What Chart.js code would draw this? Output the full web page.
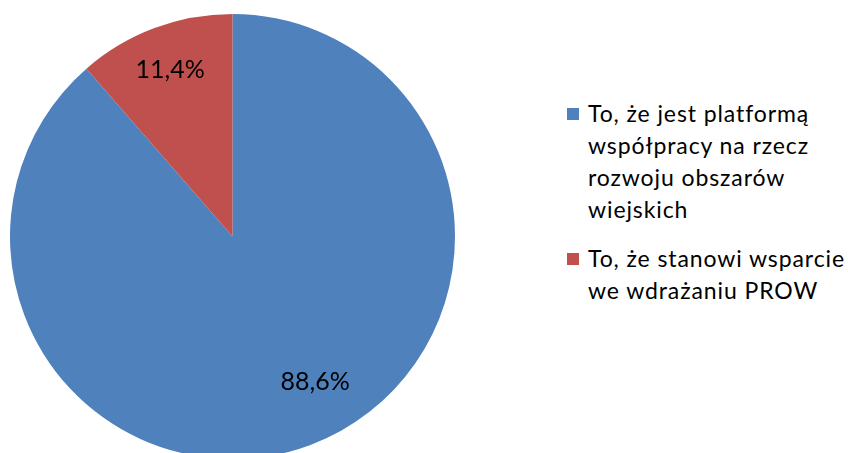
<!DOCTYPE html>
<html>
<head>
<meta charset="utf-8">
<script src="https://cdn.jsdelivr.net/npm/chart.js@4.4.0/dist/chart.umd.min.js"></script>
<style>
  html, body { margin: 0; padding: 0; background: #fff; overflow: hidden; }
  body { width: 848px; height: 453px; position: relative; }
  #pieBox { position: absolute; left: 0; top: 0; width: 465px; height: 473px; }
  #legend { position: absolute; left: 567px; top: 97px; font-family: Lato, "Open Sans", sans-serif; font-size: 23px; letter-spacing: 0.9px; color: #000; }
  .item { display: flex; align-items: flex-start; margin-bottom: 17px; }
  .box { width: 12px; height: 12px; margin-top: 11px; margin-right: 9px; flex: none; }
  .txt { line-height: 32px; white-space: nowrap; }
</style>
</head>
<body>
<div id="pieBox"><canvas id="chart"></canvas></div>
<div id="legend"></div>
<script>
// Chart data
const labels = [
  ['To, że jest platformą', 'współpracy na rzecz', 'rozwoju obszarów', 'wiejskich'],
  ['To, że stanowi wsparcie', 'we wdrażaniu PROW']
];
const values = [88.6, 11.4];
const valueLabels = ['88,6%', '11,4%'];
const colors = ['#4F81BD', '#C0504D'];

// Draw the percentage labels inside the slices
const sliceLabels = {
  id: 'sliceLabels',
  afterDatasetsDraw(chart) {
    const ctx = chart.ctx;
    const meta = chart.getDatasetMeta(0);
    ctx.save();
    ctx.font = '25px Lato, "Open Sans", sans-serif';
    ctx.fillStyle = '#000';
    ctx.textAlign = 'center';
    ctx.textBaseline = 'middle';
    meta.data.forEach((arc, i) => {
      const p = arc.getProps(['x', 'y', 'startAngle', 'endAngle', 'outerRadius']);
      const mid = (p.startAngle + p.endAngle) / 2 + (i === 0 ? -0.16 : 0);
      const r = p.outerRadius * (i === 0 ? 0.75 : 0.8);
      ctx.fillText(valueLabels[i], p.x + Math.cos(mid) * r, p.y + Math.sin(mid) * r);
    });
    ctx.restore();
  }
};

const ctx = document.getElementById('chart').getContext('2d');
const chart = new Chart(ctx, {
  type: 'pie',
  data: {
    labels: labels,
    datasets: [{
      data: values,
      backgroundColor: colors,
      borderWidth: 0
    }]
  },
  options: {
    responsive: true,
    maintainAspectRatio: false,
    animation: false,
    layout: { padding: { left: 10, top: 14, right: 10, bottom: 14 } },
    plugins: {
      legend: { display: false },
      tooltip: { enabled: false }
    }
  },
  plugins: [sliceLabels]
});

// Legend built from the same arrays
const legend = document.getElementById('legend');
labels.forEach((lines, i) => {
  const item = document.createElement('div');
  item.className = 'item';
  const box = document.createElement('div');
  box.className = 'box';
  box.style.background = colors[i];
  const txt = document.createElement('div');
  txt.className = 'txt';
  txt.innerHTML = lines.join('<br>');
  item.appendChild(box);
  item.appendChild(txt);
  legend.appendChild(item);
});
</script>
</body>
</html>
